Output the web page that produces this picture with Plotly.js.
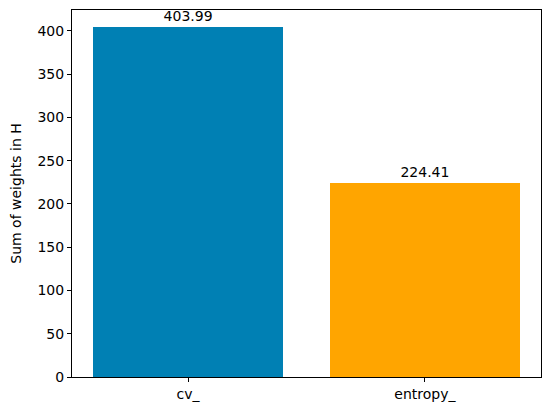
<!DOCTYPE html>
<html>
<head>
<meta charset="utf-8">
<script src="https://cdn.plot.ly/plotly-3.0.1.min.js"></script>
<style>html,body{margin:0;padding:0;background:#fff;}#chart{width:550px;height:413px;}</style>
</head>
<body>
<div id="chart"></div>
<script>
const categories = ["cv_", "entropy_"];
const values = [403.99, 224.41];
const barColors = ["#0080b4", "#ffa500"];
const yTicks = [0, 50, 100, 150, 200, 250, 300, 350, 400];

const positions = categories.map((c, i) => i);
const font = {family: "DejaVu Sans, sans-serif", size: 14, color: "#000"};

const trace = {
  type: "bar",
  x: positions,
  y: values,
  width: 0.8,
  marker: {color: barColors, line: {width: 0}},
  text: values.map(v => v.toFixed(2)),
  textposition: "outside",
  textfont: {family: "DejaVu Sans, sans-serif", size: 14, color: "#000"},
  cliponaxis: false,
  hoverinfo: "none"
};

const layout = {
  width: 550, height: 413,
  margin: {l: 72, r: 9, t: 10, b: 36, pad: 0},
  paper_bgcolor: "#fff", plot_bgcolor: "#fff",
  font: font,
  showlegend: false,
  bargap: 0,
  xaxis: {
    range: [-0.49, 1.49],
    tickvals: positions, ticktext: categories,
    ticks: "outside", ticklen: 4, tickwidth: 1, tickcolor: "#000",
    showline: true, linecolor: "#000", linewidth: 1, mirror: true,
    showgrid: false, zeroline: false,
    tickfont: font
  },
  yaxis: {
    range: [0, 424.19],
    tickvals: yTicks,
    ticks: "outside", ticklen: 4, tickwidth: 1, tickcolor: "#000",
    showline: true, linecolor: "#000", linewidth: 1, mirror: true,
    showgrid: false, zeroline: false,
    tickfont: font,
    title: {text: "Sum of weights in H", font: font, standoff: 12}
  }
};

Plotly.newPlot("chart", [trace], layout, {staticPlot: true, displayModeBar: false});
</script>
</body>
</html>
